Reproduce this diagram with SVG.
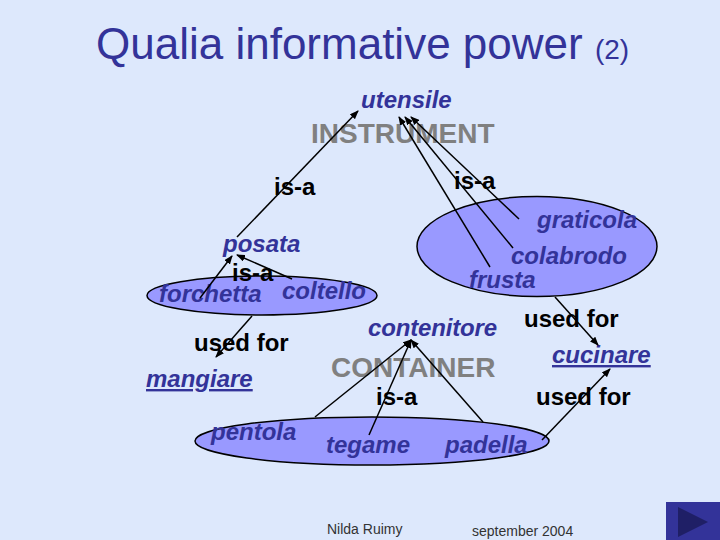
<svg xmlns="http://www.w3.org/2000/svg" width="720" height="540" viewBox="0 0 720 540">
<style>
text{font-family:"Liberation Sans",Arial,sans-serif}
.e{fill:#9999ff;stroke:#000;stroke-width:1.5}
.t{fill:#333399;font-style:italic;font-weight:bold;font-size:24px}
.k{fill:#000;font-weight:bold;font-size:24px}
.g{fill:#808080;font-weight:bold;font-size:28px}
.l{stroke:#000;stroke-width:1.5;fill:none}
.a{marker-end:url(#ah)}
.f{fill:#333;font-size:14px}
</style>
<defs><marker id="ah" markerUnits="userSpaceOnUse" markerWidth="9" markerHeight="7" refX="8" refY="3.5" orient="auto"><path d="M0 0L9 3.5L0 7Z" fill="#000"/></marker></defs>
<rect id="bg" width="720" height="540" fill="#dde8fc"/>
<g id="title"><text x="96" y="59" font-size="44" fill="#333399">Qualia informative power <tspan font-size="28">(2)</tspan></text></g>
<g id="instrument-set"><ellipse class="e" cx="537" cy="246.5" rx="120" ry="50"/><text class="t" x="537" y="228">graticola</text><text class="t" x="511" y="264">colabrodo</text><text class="t" x="469" y="288">frusta</text></g>
<g id="cutlery-set"><ellipse class="e" cx="262" cy="295.5" rx="115" ry="19.5"/><text class="t" x="159" y="302">forchetta</text><text class="t" x="282" y="299">coltello</text></g>
<g id="pot-set"><ellipse class="e" cx="372" cy="441" rx="177" ry="24"/><text class="t" x="211" y="440">pentola</text><text class="t" x="326" y="453">tegame</text><text class="t" x="445" y="453">padella</text></g>
<g id="utensile"><text class="t" x="361" y="108">utensile</text></g>
<g id="instrument"><text class="g" x="311" y="143">INSTRUMENT</text></g>
<g id="posata"><text class="t" x="223" y="252">posata</text></g>
<g id="mangiare"><text class="t" x="146" y="387" text-decoration="underline">mangiare</text></g>
<g id="contenitore"><text class="t" x="368" y="336" textLength="129">contenitore</text></g>
<g id="container"><text class="g" x="331" y="377">CONTAINER</text></g>
<g id="cucinare"><text class="t" x="552" y="363" text-decoration="underline">cucinare</text></g>
<g id="connectors">
<line class="l a" x1="237" y1="237" x2="358" y2="111"/>
<line class="l a" x1="490" y1="267" x2="399" y2="117"/>
<line class="l a" x1="513" y1="248" x2="405" y2="117"/>
<line class="l a" x1="519" y1="219" x2="411" y2="117"/>
<line class="l a" x1="200" y1="298" x2="232" y2="256"/>
<line class="l a" x1="292" y1="279" x2="237" y2="255"/>
<line class="l a" x1="252" y1="316" x2="216" y2="357"/>
<line class="l a" x1="315" y1="417" x2="411" y2="340"/>
<line class="l a" x1="369" y1="435" x2="411" y2="340"/>
<line class="l a" x1="483" y1="422" x2="411" y2="340"/>
<line class="l a" x1="555" y1="297" x2="598" y2="345"/>
<line class="l a" x1="542" y1="440" x2="610" y2="369"/>
</g>
<g id="labels">
<text class="k" x="274" y="195">is-a</text><text class="k" x="454" y="189">is-a</text><text class="k" x="232" y="281">is-a</text><text class="k" x="376" y="405">is-a</text>
<text class="k" x="194" y="351">used for</text><text class="k" x="524" y="327">used for</text><text class="k" x="536" y="405">used for</text>
</g>
<g id="footer"><text class="f" x="327" y="534">Nilda Ruimy</text><text class="f" x="472" y="536">september 2004</text></g>
<g id="next"><rect x="666" y="502" width="54" height="38" fill="#333399"/><path d="M678 507L708 522L678 537Z" fill="#1f1f66"/></g>
</svg>
